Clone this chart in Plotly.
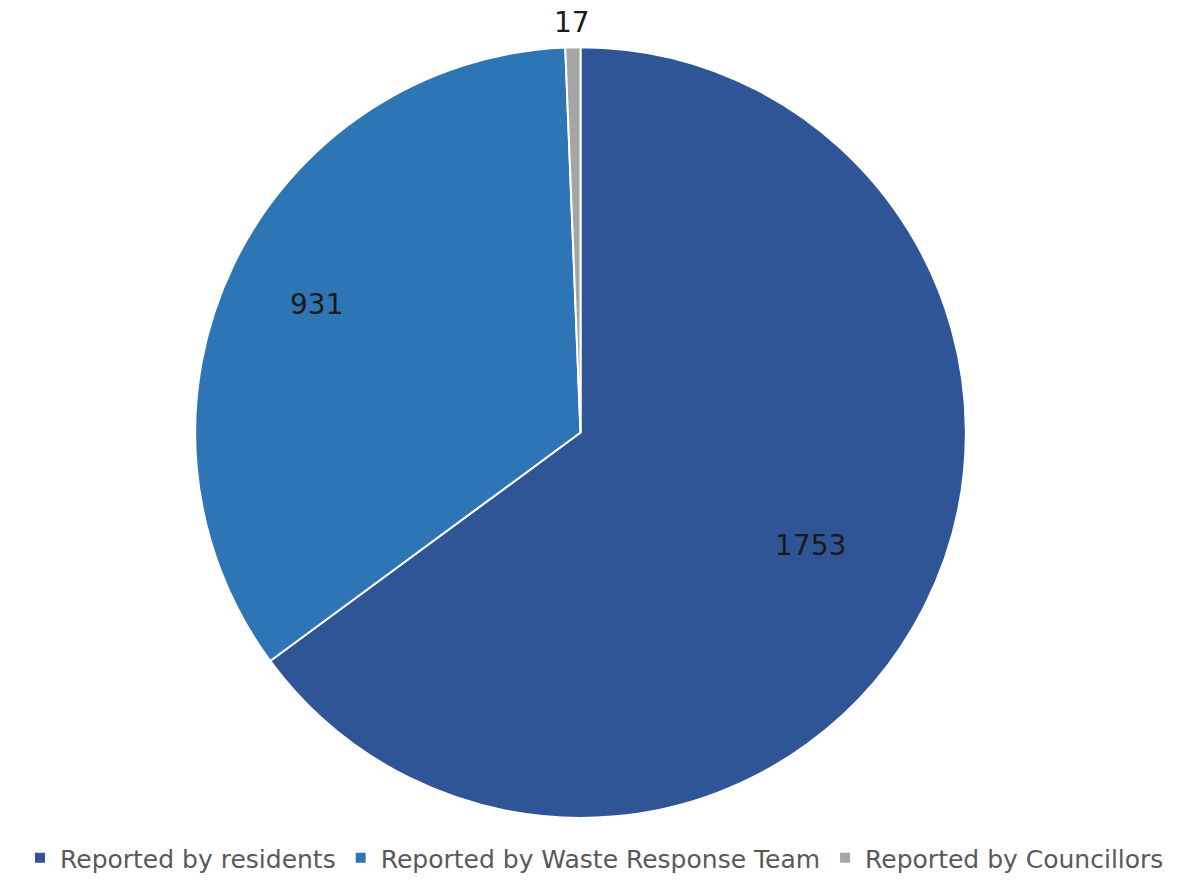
import math
import plotly.graph_objects as go

categories = ["Reported by residents", "Reported by Waste Response Team", "Reported by Councillors"]
values = [1753, 931, 17]
colors = ["#2F5597", "#2E75B6", "#A5A5A5"]
label_radius = [0.67, 0.76, 1.065]  # fraction of pie radius where each value label sits

W, H = 1189, 881
CX, CY, R = 580.5, 433, 385
RD = 388  # domain half-size (plotly shrinks slightly)

fig = go.Figure(go.Pie(
    labels=categories,
    values=values,
    sort=False,
    direction="clockwise",
    rotation=0,
    marker=dict(colors=colors, line=dict(color="white", width=2)),
    textinfo="none",
    automargin=False,
    domain=dict(x=[(CX - RD) / W, (CX + RD) / W],
                y=[1 - (CY + 2.5 + RD) / H, 1 - (CY + 2.5 - RD) / H]),
    showlegend=True,
    hoverinfo="label+value",
))

total = sum(values)
cum = 0
annotations = []
for v, rf in zip(values, label_radius):
    mid = (cum + v / 2) / total * 2 * math.pi
    cum += v
    px = CX + math.sin(mid) * rf * R
    py = CY - math.cos(mid) * rf * R
    annotations.append(dict(
        x=px / W, y=1 - py / H, xref="paper", yref="paper",
        text=str(v), showarrow=False, xanchor="center", yanchor="middle",
        font=dict(size=28, color="#1a1a1a", family="DejaVu Sans"),
    ))

fig.update_layout(
    width=W, height=H,
    margin=dict(l=0, r=0, t=0, b=0),
    paper_bgcolor="white",
    annotations=annotations,
    legend=dict(orientation="h", x=0.5, xanchor="center", y=1 - 864 / H, yanchor="middle",
                font=dict(size=25, color="#595959", family="DejaVu Sans"),
                itemwidth=30, traceorder="normal"),
)

fig.write_html("out.html")
